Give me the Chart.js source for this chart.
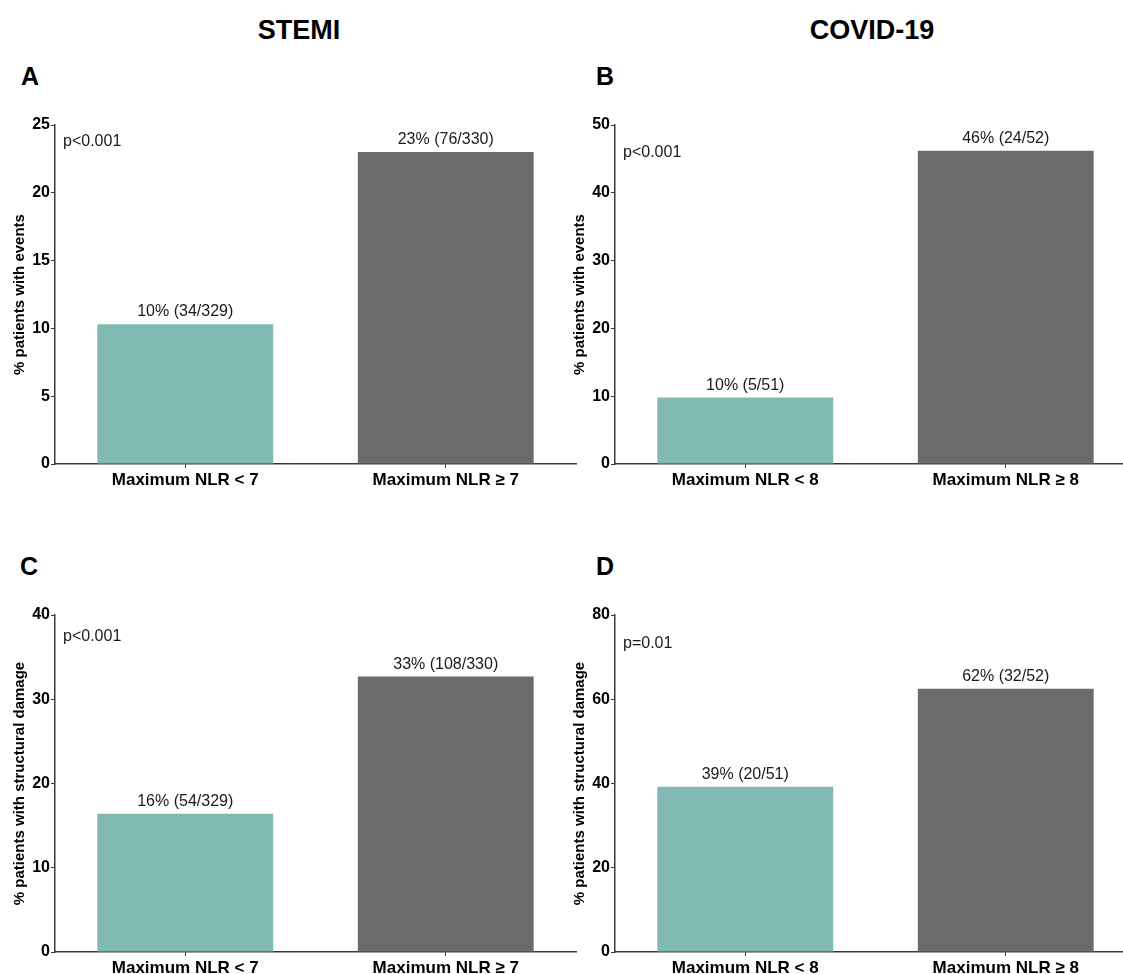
<!DOCTYPE html>
<html>
<head>
<meta charset="utf-8">
<script src="https://cdn.jsdelivr.net/npm/chart.js@4"></script>
<style>
  html, body { margin: 0; padding: 0; background: #fff; overflow: hidden; }
  body { width: 1123px; height: 974px; position: relative; font-family: "Liberation Sans", Arial, sans-serif; }
  .panel { position: absolute; }
  .label { position: absolute; font-weight: bold; font-size: 25px; line-height: 1; color: #000; }
  .title { font-size: 27px; transform: translateX(-50%); }
</style>
</head>
<body>
<div class="label title" style="left:299px; top:17px;">STEMI</div>
<div class="label title" style="left:872px; top:17px;">COVID-19</div>
<div class="label" style="left:21px; top:64px;">A</div>
<div class="label" style="left:596px; top:64px;">B</div>
<div class="label" style="left:20px; top:554px;">C</div>
<div class="label" style="left:596px; top:554px;">D</div>

<div class="panel" style="left:0; top:100px; width:580px; height:400px;"><canvas id="chartA"></canvas></div>
<div class="panel" style="left:560px; top:100px; width:580px; height:400px;"><canvas id="chartB"></canvas></div>
<div class="panel" style="left:0; top:590px; width:580px; height:384px;"><canvas id="chartC"></canvas></div>
<div class="panel" style="left:560px; top:590px; width:580px; height:384px;"><canvas id="chartD"></canvas></div>

<script>
const stemiCategories = ["Maximum NLR < 7", "Maximum NLR \u2265 7"];
const covidCategories = ["Maximum NLR < 8", "Maximum NLR \u2265 8"];

const stemiEvents = [10.3, 23.0];
const stemiEventsLabels = ["10% (34/329)", "23% (76/330)"];
const covidEvents = [9.8, 46.2];
const covidEventsLabels = ["10% (5/51)", "46% (24/52)"];

const stemiDamage = [16.4, 32.7];
const stemiDamageLabels = ["16% (54/329)", "33% (108/330)"];
const covidDamage = [39.2, 62.5];
const covidDamageLabels = ["39% (20/51)", "62% (32/52)"];

const FONT = "'Liberation Sans', Arial, sans-serif";
const TEAL = "#7fb9b1";
const GREY = "#6a6b6a";
const AXIS = "#3a3a3a";

// labels above bars and the p-value in the corner
const annotations = {
  id: "annotations",
  afterDatasetsDraw(chart, args, opts) {
    const { ctx, chartArea } = chart;
    const meta = chart.getDatasetMeta(0);
    ctx.save();
    ctx.fillStyle = "#1a1a1a";
    ctx.font = "16px " + FONT;
    ctx.textAlign = "center";
    ctx.textBaseline = "alphabetic";
    meta.data.forEach((bar, i) => {
      ctx.fillText(opts.barLabels[i], bar.x, bar.y - 8);
    });
    ctx.textAlign = "left";
    ctx.textBaseline = "middle";
    ctx.fillText(opts.pText, chartArea.left + 8, chart.scales.y.getPixelForValue(opts.pAt));
    ctx.restore();
  },
};

function makeChart(id, categories, values, barLabels, yTitle, yMax, step, pText, pAt, xHeight) {
  return new Chart(document.getElementById(id), {
    type: "bar",
    data: {
      labels: categories,
      datasets: [{
        data: values,
        backgroundColor: [TEAL, GREY],
        borderWidth: 0,
        categoryPercentage: 1,
        barPercentage: 0.675,
      }],
    },
    options: {
      responsive: true,
      maintainAspectRatio: false,
      animation: false,
      layout: { padding: { top: 25, right: 4, left: 0, bottom: 0 } },
      plugins: {
        legend: { display: false },
        tooltip: { enabled: false },
        annotations: { barLabels, pText, pAt },
      },
      scales: {
        x: {
          afterFit: (scale) => { scale.height = xHeight; },
          grid: { offset: false, drawOnChartArea: false, tickLength: 4, color: AXIS, lineWidth: 1 },
          border: { display: true, color: AXIS, width: 1.5 },
          ticks: { color: "#000", padding: 2, font: { family: FONT, size: 17, weight: "bold" } },
        },
        y: {
          min: 0,
          max: yMax,
          afterFit: (scale) => { scale.width = 55; },
          grid: { drawOnChartArea: false, tickLength: 4, color: AXIS, lineWidth: 1 },
          border: { display: true, color: AXIS, width: 1.5 },
          ticks: { stepSize: step, color: "#000", padding: 1, font: { family: FONT, size: 16, weight: "bold" } },
          title: {
            display: true,
            text: yTitle,
            color: "#000",
            padding: { top: 11, bottom: 0 },
            font: { family: FONT, size: 15, weight: "bold" },
          },
        },
      },
    },
    plugins: [annotations],
  });
}

makeChart("chartA", stemiCategories, stemiEvents, stemiEventsLabels,
  "% patients with events", 25, 5, "p<0.001", 23.8, 36);
makeChart("chartB", covidCategories, covidEvents, covidEventsLabels,
  "% patients with events", 50, 10, "p<0.001", 45.9, 36);
makeChart("chartC", stemiCategories, stemiDamage, stemiDamageLabels,
  "% patients with structural damage", 40, 10, "p<0.001", 37.4, 22);
makeChart("chartD", covidCategories, covidDamage, covidDamageLabels,
  "% patients with structural damage", 80, 20, "p=0.01", 73.1, 22);
</script>
</body>
</html>
